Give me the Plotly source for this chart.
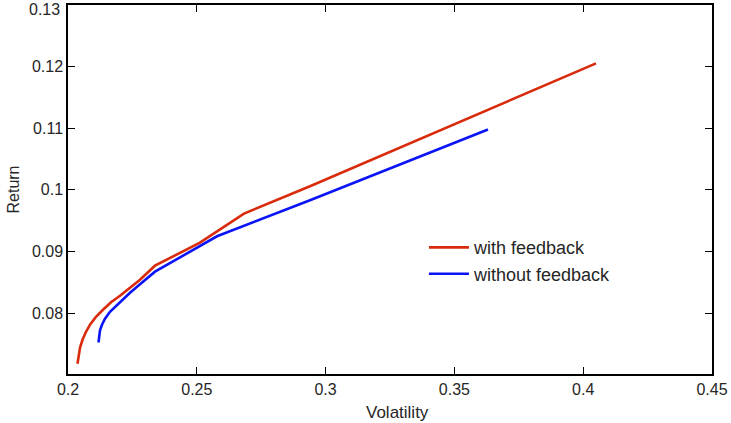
import plotly.graph_objects as go

with_vol = [0.20369, 0.20408, 0.20466, 0.20563, 0.20699, 0.20854, 0.21087, 0.21359, 0.21669,
            0.22019, 0.22407, 0.22795, 0.23377, 0.25124, 0.26832, 0.29394, 0.40497]
with_ret = [0.07176, 0.07306, 0.07436, 0.07566, 0.07696, 0.07810, 0.07940, 0.08054, 0.08176,
            0.08281, 0.08411, 0.08541, 0.08769, 0.09143, 0.09615, 0.10059, 0.12054]

without_vol = [0.21184, 0.21203, 0.21242, 0.21320, 0.21436, 0.21630, 0.21891, 0.22135, 0.22407,
               0.22795, 0.23377, 0.25784, 0.29394, 0.36304]
without_ret = [0.07522, 0.07631, 0.07720, 0.07810, 0.07907, 0.08021, 0.08127, 0.08233, 0.08330,
               0.08468, 0.08672, 0.09246, 0.09831, 0.10980]

x_ticks = [0.2, 0.25, 0.3, 0.35, 0.4, 0.45]
x_labels = ["0.2", "0.25", "0.3", "0.35", "0.4", "0.45"]
y_ticks = [0.08, 0.09, 0.1, 0.11, 0.12, 0.13]
y_labels = ["0.08", "0.09", "0.1", "0.11", "0.12", "0.13"]

FAM = "Liberation Sans, Arial, sans-serif"
TXT = "#262626"

fig = go.Figure()
fig.add_trace(go.Scatter(x=with_vol, y=with_ret, mode="lines", name="with feedback",
                         line=dict(color="#d92b0b", width=2.6)))
fig.add_trace(go.Scatter(x=without_vol, y=without_ret, mode="lines", name="without feedback",
                         line=dict(color="#0a14f5", width=2.6)))

axis_common = dict(showgrid=False, zeroline=False, showline=True, linecolor="black", linewidth=1.5,
                   mirror="ticks", ticks="inside", ticklen=7, tickcolor="black", tickwidth=1,
                   tickfont=dict(family=FAM, size=16, color=TXT), automargin=False)

# top y tick label drawn as annotation (it sits at the very top edge of the figure)
y_ticktext = y_labels[:-1] + [""]

fig.update_layout(
    width=731, height=423,
    margin=dict(l=68, r=19, t=5, b=49),
    paper_bgcolor="white", plot_bgcolor="white",
    font=dict(family=FAM, size=16, color=TXT),
    showlegend=True,
    legend=dict(x=0.5527, y=0.3925, xanchor="left", yanchor="top", bgcolor="rgba(0,0,0,0)",
                font=dict(family=FAM, size=18, color=TXT),
                tracegroupgap=0, itemwidth=40),
    xaxis=dict(range=[0.2, 0.45001], tickvals=x_ticks, ticktext=x_labels, **axis_common),
    yaxis=dict(range=[0.0701, 0.13002], tickvals=y_ticks, ticktext=y_ticktext, **axis_common),
    annotations=[
        dict(text=y_labels[-1], xref="paper", yref="y", x=0, y=y_ticks[-1], xanchor="right",
             yanchor="middle", xshift=-6, yshift=-4, showarrow=False,
             font=dict(family=FAM, size=16, color=TXT)),
        dict(text="Volatility", xref="paper", yref="paper", x=0.511, y=0, xanchor="center",
             yanchor="top", yshift=-27, showarrow=False,
             font=dict(family=FAM, size=17, color=TXT)),
        dict(text="Return", xref="paper", yref="paper", x=0, y=0.5, xanchor="center",
             yanchor="middle", xshift=-55, showarrow=False, textangle=-90,
             font=dict(family=FAM, size=16, color=TXT)),
    ],
)

fig.write_html("out.html", config={"displayModeBar": False},
               post_script="document.body.style.margin='0';document.body.style.padding='0';")
